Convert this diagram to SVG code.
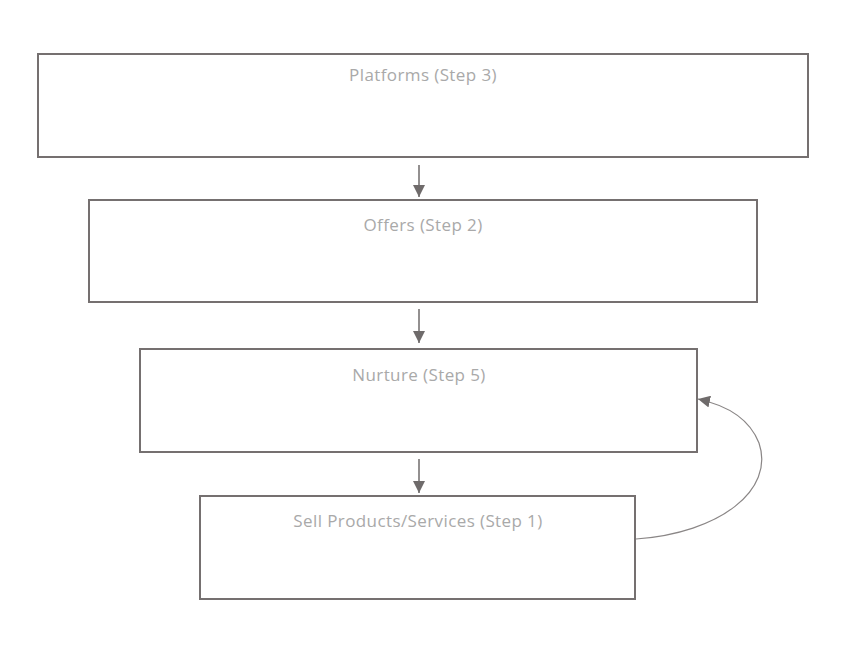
<svg xmlns="http://www.w3.org/2000/svg" width="853" height="653" viewBox="0 0 853 653">
<style>
.box{fill:#fff;stroke:#757070;stroke-width:2}
.lbl{font-family:"Open Sans","Noto Sans","Liberation Sans",sans-serif;font-size:17px;letter-spacing:0.4px;fill:#a9a9a9;text-anchor:middle}
.con{fill:none;stroke:#6f6b6b;stroke-width:1.5}
.cur{fill:none;stroke:#8a8686;stroke-width:1.2}
</style>
<defs>
<marker id="ah" markerWidth="12" markerHeight="12" refX="10" refY="5" orient="auto" markerUnits="userSpaceOnUse" viewBox="0 0 10 10">
<path d="M0,0 L10,5 L0,10 z" fill="#6f6b6b"/>
</marker>
</defs>
<rect width="853" height="653" fill="#fff"/>
<g id="platforms"><rect class="box" x="38" y="54" width="770" height="103"/><text class="lbl" x="423" y="81">Platforms (Step 3)</text></g>
<g id="offers"><rect class="box" x="89" y="200" width="668" height="102"/><text class="lbl" x="423" y="231">Offers (Step 2)</text></g>
<g id="nurture"><rect class="box" x="140" y="349" width="557" height="103"/><text class="lbl" x="419" y="381">Nurture (Step 5)</text></g>
<g id="sell"><rect class="box" x="200" y="496" width="435" height="103"/><text class="lbl" x="418" y="527">Sell Products/Services (Step 1)</text></g>
<g id="connectors">
<path class="con" d="M419,165 L419,197" marker-end="url(#ah)"/>
<path class="con" d="M419,309 L419,343" marker-end="url(#ah)"/>
<path class="con" d="M419,459 L419,493" marker-end="url(#ah)"/>
<path class="cur" d="M636,539 C720,533 775,490 759,443 C750,420 730,406 698,399" marker-end="url(#ah)"/>
</g>
</svg>
